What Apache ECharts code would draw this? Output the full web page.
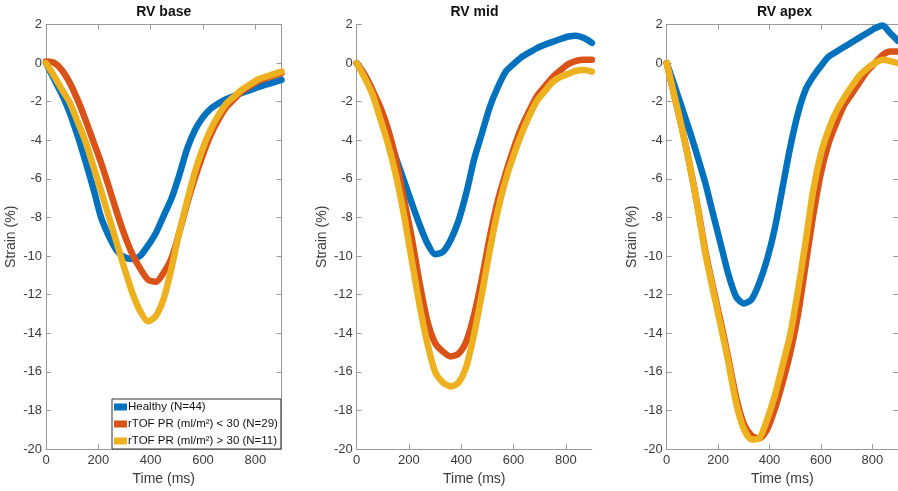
<!DOCTYPE html>
<html><head><meta charset="utf-8">
<script src="https://cdn.jsdelivr.net/npm/echarts@6/dist/echarts.min.js"></script>
<style>html,body{margin:0;padding:0;background:#fff}#c{width:898px;height:491px}</style>
</head><body><div id="c"></div>
<script>
// ---- data ----
const timeMs = [0,30,60,90,120,150,180,210,240,270,300,330,360,390,420,450,480,510,540,570,600,630,660,690,720,750,780,810,840,870,900];
const panelTitles = ['RV base', 'RV mid', 'RV apex'];
const seriesNames = ['Healthy (N=44)', 'rTOF PR (ml/m\u00B2) < 30 (N=29)', 'rTOF PR (ml/m\u00B2) > 30 (N=11)'];
const xTicks = [0, 200, 400, 600, 800];
const yTicks = [2, 0, -2, -4, -6, -8, -10, -12, -14, -16, -18, -20];

const baseHealthy = [0,-0.8,-1.6,-2.55,-3.73,-5.05,-6.45,-7.97,-8.95,-9.7,-10.07,-10.15,-9.99,-9.45,-8.8,-7.9,-7.0,-5.77,-4.42,-3.45,-2.8,-2.36,-2.08,-1.86,-1.7,-1.54,-1.4,-1.25,-1.12,-1.0,-0.87];
const baseLow     = [0.08,0.02,-0.35,-1.0,-1.88,-2.9,-4.03,-5.15,-6.4,-7.7,-8.9,-9.9,-10.65,-11.22,-11.33,-10.85,-10.1,-8.75,-7.25,-5.92,-4.73,-3.7,-2.9,-2.26,-1.85,-1.45,-1.18,-0.93,-0.78,-0.65,-0.52];
const baseHigh    = [0,-0.65,-1.35,-2.02,-3.0,-4.03,-5.3,-6.6,-7.95,-9.3,-10.65,-11.9,-12.85,-13.38,-13.1,-12.2,-10.6,-8.73,-7.12,-5.6,-4.39,-3.42,-2.68,-2.09,-1.72,-1.36,-1.1,-0.85,-0.7,-0.57,-0.44];

const midHealthy  = [0,-0.6,-1.4,-2.55,-3.7,-4.9,-6.06,-7.23,-8.35,-9.33,-9.9,-9.78,-9.15,-8.15,-6.7,-4.95,-3.6,-2.25,-1.25,-0.45,-0.05,0.3,0.55,0.78,0.95,1.1,1.25,1.38,1.42,1.3,1.05];
const midLow      = [0,-0.6,-1.4,-2.27,-3.42,-4.97,-7.0,-9.0,-11.33,-13.34,-14.5,-14.95,-15.2,-15.05,-14.4,-13.0,-11.1,-8.95,-7.13,-5.72,-4.45,-3.35,-2.48,-1.7,-1.2,-0.73,-0.37,-0.05,0.12,0.17,0.17];
const midHigh     = [0,-0.75,-1.6,-2.87,-4.2,-5.8,-7.8,-10.15,-12.5,-14.5,-16.0,-16.55,-16.75,-16.55,-15.7,-14.0,-11.9,-9.64,-7.65,-6.05,-4.8,-3.7,-2.75,-1.95,-1.45,-0.98,-0.72,-0.55,-0.4,-0.36,-0.44];

const apexHealthy = [0,-1.15,-2.34,-3.55,-4.84,-6.2,-7.8,-9.37,-10.94,-12.1,-12.45,-12.25,-11.4,-10.2,-8.6,-6.5,-4.4,-2.64,-1.39,-0.7,-0.15,0.33,0.59,0.83,1.08,1.32,1.56,1.8,1.95,1.55,1.15];
const apexLow     = [0,-1.7,-3.4,-5.3,-7.4,-9.7,-11.6,-13.4,-15.3,-17.3,-18.7,-19.3,-19.45,-19.0,-17.95,-16.6,-15.05,-13.1,-10.5,-7.9,-5.7,-4.15,-3.1,-2.2,-1.6,-1.0,-0.42,0.0,0.42,0.6,0.6];
const apexHigh    = [0,-1.7,-3.42,-5.29,-7.46,-9.84,-11.75,-13.6,-15.5,-17.6,-18.95,-19.5,-19.45,-18.5,-17.26,-15.7,-14.1,-11.85,-9.3,-6.6,-4.7,-3.45,-2.5,-1.8,-1.2,-0.65,-0.28,0.0,0.17,0.1,0.0];

const panelData = [
  [baseHealthy, baseLow, baseHigh],
  [midHealthy, midLow, midHigh],
  [apexHealthy, apexLow, apexHigh]
];

// ---- styling / layout ----
const colors = ['#0072BD', '#D95319', '#EDB120'];
const FONT = '"Liberation Sans", Arial, Helvetica, sans-serif';
const AXC = '#9a9a9a';
const TXC = '#3a3a3a';
const grids = [
  {left: 46, top: 24.5, width: 235.5, height: 426.2},
  {left: 356.7, top: 24.5, width: 235.2, height: 426.2},
  {left: 666.7, top: 24.5, width: 236.2, height: 426.2}
];
const boxed = [true, false, true];

const xAxis = [], yAxis = [], series = [];
const graphic = [];
grids.forEach((g, p) => {
  const xi = xAxis.length;
  xAxis.push({
    type: 'value', gridIndex: p, min: 0, max: 900, position: 'bottom',
    name: 'Time (ms)', nameLocation: 'middle', nameGap: 21,
    nameTextStyle: {fontFamily: FONT, fontSize: 14, color: TXC},
    axisLine: {show: true, onZero: false, lineStyle: {color: AXC, width: 1}},
    axisTick: {show: true, inside: true, length: 5, customValues: xTicks, lineStyle: {color: AXC}},
    axisLabel: {show: true, customValues: xTicks, margin: 5, fontFamily: FONT, fontSize: 13, color: TXC},
    splitLine: {show: false}
  });
  if (boxed[p]) {
    xAxis.push({
      type: 'value', gridIndex: p, min: 0, max: 900, position: 'top',
      axisLine: {show: true, onZero: false, lineStyle: {color: AXC, width: 1}},
      axisTick: {show: true, inside: true, length: 5, customValues: xTicks, lineStyle: {color: AXC}},
      axisLabel: {show: false}, splitLine: {show: false}
    });
  }
  const yi = yAxis.length;
  yAxis.push({
    type: 'value', gridIndex: p, min: -20, max: 2, interval: 2, position: 'left',
    name: 'Strain (%)', nameLocation: 'middle', nameGap: 28,
    nameTextStyle: {fontFamily: FONT, fontSize: 14, color: TXC},
    axisLine: {show: true, onZero: false, lineStyle: {color: AXC, width: 1}},
    axisTick: {show: true, inside: true, length: 5, lineStyle: {color: AXC}},
    axisLabel: {show: true, margin: 4, fontFamily: FONT, fontSize: 13, color: TXC},
    splitLine: {show: false}
  });
  if (boxed[p]) {
    yAxis.push({
      type: 'value', gridIndex: p, min: -20, max: 2, interval: 2, position: 'right',
      axisLine: {show: true, onZero: false, lineStyle: {color: AXC, width: 1}},
      axisTick: {show: true, inside: true, length: 5, lineStyle: {color: AXC}},
      axisLabel: {show: false}, splitLine: {show: false}
    });
  }
  panelData[p].forEach((vals, s) => {
    series.push({
      type: 'line', name: seriesNames[s], xAxisIndex: xi, yAxisIndex: yi,
      data: timeMs.map((t, i) => [t, vals[i]]),
      showSymbol: false, symbol: 'none', smooth: 0.25,
      lineStyle: {width: 6.5, color: colors[s], cap: 'round', join: 'round'},
      itemStyle: {color: colors[s]},
      emphasis: {disabled: true}
    });
  });
  graphic.push({
    type: 'text', x: g.left + 235.5 / 2, y: 12.5,
    style: {text: panelTitles[p], textAlign: 'center', textVerticalAlign: 'middle',
      font: 'bold 14px ' + FONT, fill: '#111'}
  });
});

const chart = echarts.init(document.getElementById('c'), null, {renderer: 'canvas'});
chart.setOption({
  animation: false,
  backgroundColor: '#fff',
  grid: grids.map(g => Object.assign({containLabel: false}, g)),
  xAxis, yAxis, series, graphic,
  legend: {
    data: seriesNames, orient: 'vertical', left: 112, top: 399,
    icon: 'rect', itemWidth: 13, itemHeight: 7, itemGap: 5,
    padding: [2, 3, 2, 2], borderColor: '#333', borderWidth: 1, backgroundColor: '#fff',
    textStyle: {fontFamily: FONT, fontSize: 11.5, color: '#111', lineHeight: 12, padding: [0, 0, 0, -4]},
    selectedMode: false
  }
});
</script></body></html>
